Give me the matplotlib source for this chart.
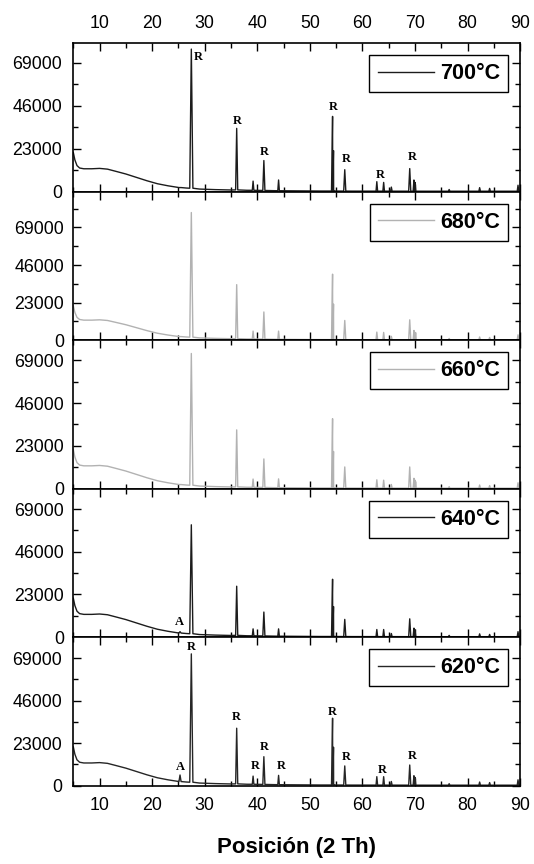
import numpy as np
import matplotlib
matplotlib.use('Agg')
import matplotlib.pyplot as plt
from matplotlib.ticker import MultipleLocator, FormatStrFormatter

plt.rcParams['font.family'] = ['Liberation Sans', 'DejaVu Sans']

temps  = ['700°C', '680°C', '660°C', '640°C', '620°C']
colors = ['#1c1c1c', '#b2b2b2', '#b2b2b2', '#1c1c1c', '#262626']
ytop   = [79400, 90800, 79700, 79900, 80300]

# amorphous background (2 theta, counts), about the same for all samples
bg_x = [5, 5.3, 5.7, 6.2, 7, 8.5, 10, 11.5, 13, 15, 17, 19, 21, 23, 25,
        26.5, 29, 32, 35, 38, 43, 47, 52, 58, 61, 67, 72, 78, 86, 90]
bg_y = [21000, 17000, 14000, 12700, 12300, 12300, 12500, 12100, 11000, 9500,
        7700, 5900, 4300, 3200, 2300, 2000, 1450, 1150, 950, 800, 600, 500,
        400, 350, 340, 320, 300, 300, 300, 300]

# diffraction peaks: position, background under it, half width of the foot
peak_pos  = [25.3, 27.45, 36.08, 39.2, 41.25, 44.05, 54.32, 54.5, 56.64,
             62.74, 64.04, 65.5, 69.0, 69.8, 70.0, 76.5, 82.3, 84.2, 89.6]
peak_base = [2250, 1900, 1000, 780, 700, 560, 400, 400, 370,
             340, 330, 330, 310, 310, 310, 300, 300, 300, 300]
peak_hw   = [0.2, 0.3, 0.2, 0.15, 0.2, 0.15, 0.2, 0.15, 0.2,
             0.15, 0.15, 0.15, 0.2, 0.15, 0.15, 0.15, 0.15, 0.15, 0.15]

# peak tops per sample
tops_700 = [2250, 76300, 33900, 5700, 16700, 6300, 40300, 22000, 11800,
            5400, 5000, 2500, 12400, 6300, 5000, 1200, 2200, 1800, 3500]
tops_680 = [2250, 78100, 34000, 5600, 17300, 5600, 40400, 22100, 12100,
            5000, 4800, 2400, 12500, 6000, 4800, 1100, 2000, 1700, 3300]
tops_660 = [2250, 72600, 31600, 5200, 16000, 5300, 37600, 20000, 11700,
            4800, 4600, 2300, 11700, 5600, 4600, 1100, 2000, 1700, 3200]
tops_640 = [3000, 60500, 27450, 4500, 13550, 4500, 31200, 16500, 9600,
            4150, 4150, 2000, 9900, 4900, 4000, 1000, 1800, 1500, 3000]
tops_620 = [5800, 71300, 31100, 5200, 15700, 5600, 36500, 20800, 10700,
            4900, 4900, 2300, 11200, 5400, 4500, 1100, 2000, 1700, 3200]
all_tops = [tops_700, tops_680, tops_660, tops_640, tops_620]

# phase labels (R = rutile, A = anatase)
lab_700 = ([28.7, 36.2, 41.3, 54.5, 57.0, 63.4, 69.4],
           [71900, 37600, 21100, 45300, 17600, 9100, 18400],
           ['R'] * 7)
lab_640 = ([25.2], [8100], ['A'])
lab_620 = ([27.5, 36.1, 39.6, 41.3, 44.5, 54.3, 57.0, 63.7, 69.5, 25.3],
           [75000, 37400, 10650, 21100, 10650, 40100, 15350, 8500, 16250, 10300],
           ['R'] * 9 + ['A'])
all_labs = [lab_700, None, None, lab_640, lab_620]


def trace(tops):
    xs = list(bg_x)
    ys = list(bg_y)
    for p, b, t, w in zip(peak_pos, peak_base, tops, peak_hw):
        xs += [p - w, p, p + w]
        ys += [b, t, b]
    order = np.argsort(xs, kind='stable')
    return np.array(xs)[order], np.array(ys)[order]


fig = plt.figure(figsize=(5.34, 8.64), dpi=100)
axes = fig.subplots(5, 1, sharex=True)
fig.subplots_adjust(left=0.1373, right=0.974, top=0.9499, bottom=0.0906, hspace=0)

for i, ax in enumerate(axes):
    x, y = trace(all_tops[i])
    ax.plot(x, y, color=colors[i], lw=1.0, label=temps[i])
    ax.set_xlim(5, 90)
    ax.set_ylim(0, ytop[i])
    ax.xaxis.set_major_locator(MultipleLocator(10))
    ax.xaxis.set_minor_locator(MultipleLocator(5))
    ax.yaxis.set_major_locator(MultipleLocator(23000))
    ax.yaxis.set_minor_locator(MultipleLocator(11500))
    ax.yaxis.set_major_formatter(FormatStrFormatter('%d'))
    ax.tick_params(which='both', direction='in', top=True, bottom=True,
                   left=True, right=True, labelbottom=False, labeltop=False,
                   width=1.0)
    ax.tick_params(which='major', length=6, labelsize=12.8, pad=6.5)
    ax.tick_params(which='minor', length=3.5)
    for s in ax.spines.values():
        s.set_linewidth(1.2)
    leg = ax.legend(loc='upper right', bbox_to_anchor=(1, 1),
                    borderaxespad=0.55, handlelength=2.6, handletextpad=0.3,
                    borderpad=0.38, fancybox=False, edgecolor='black',
                    framealpha=1, prop={'weight': 'bold', 'size': 15.5})
    leg.get_frame().set_linewidth(1.0)
    if all_labs[i] is not None:
        for lx, ly, ls in zip(*all_labs[i]):
            ax.text(lx, ly, ls, ha='center', va='center', fontsize=9,
                    fontweight='bold', family='Liberation Serif', clip_on=False)

axes[0].tick_params(labeltop=True, pad=8)
axes[-1].tick_params(labelbottom=True, pad=8)
axes[-1].set_xlabel('Posición (2 Th)', fontsize=16, fontweight='bold', labelpad=17)

fig.savefig('out.png', dpi=100)
